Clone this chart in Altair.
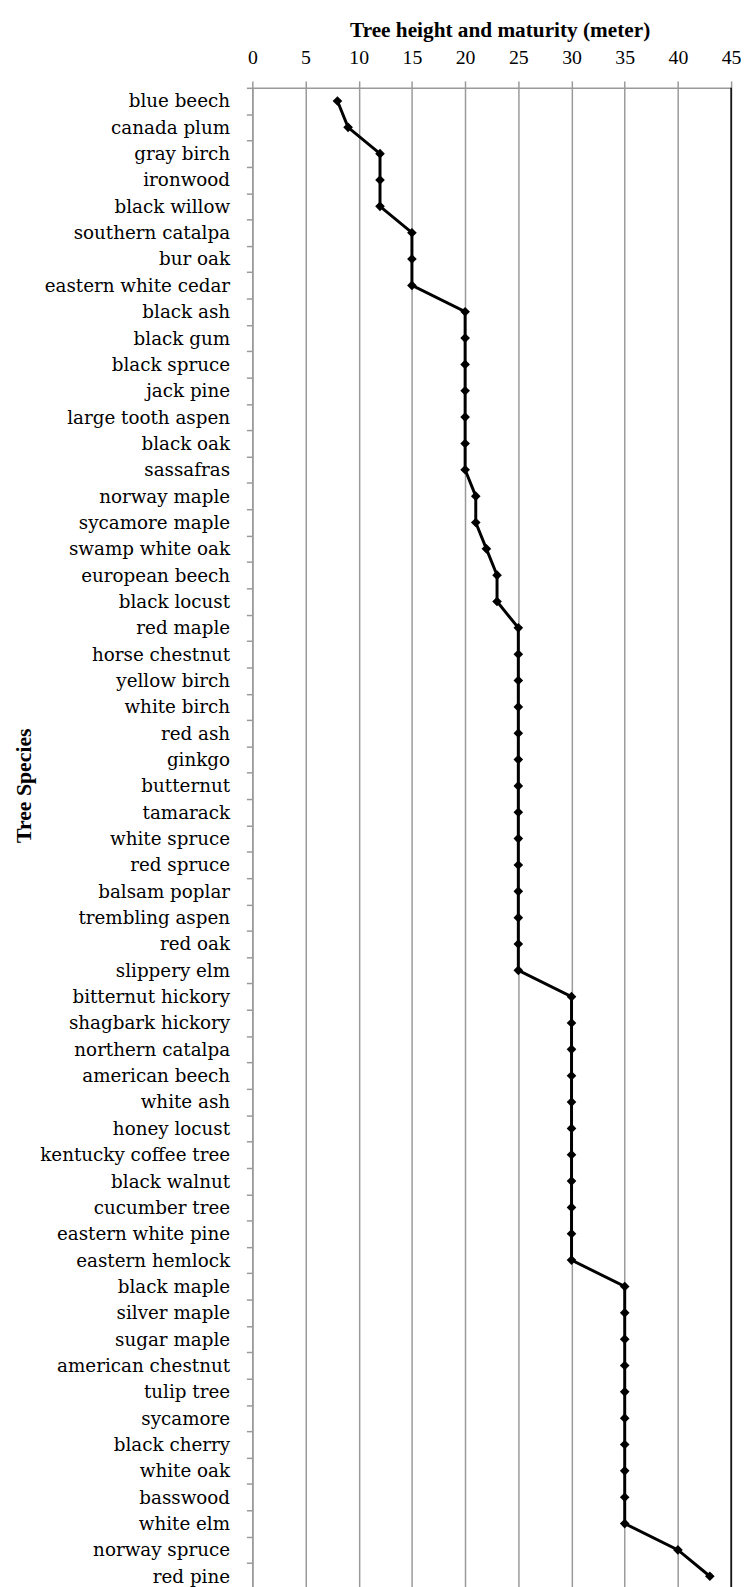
import altair as alt
import pandas as pd

species = [
    "blue beech", "canada plum", "gray birch", "ironwood", "black willow",
    "southern catalpa", "bur oak", "eastern white cedar", "black ash", "black gum ",
    "black spruce", "jack pine", "large tooth aspen", "black oak", "sassafras",
    "norway maple", "sycamore maple", "swamp white oak", "european beech", "black locust",
    "red maple", "horse chestnut", "yellow birch", "white birch", "red ash",
    "ginkgo", "butternut", "tamarack", "white spruce", "red spruce",
    "balsam poplar", "trembling aspen", "red oak", "slippery elm", "bitternut hickory",
    "shagbark hickory", "northern catalpa", "american beech", "white ash", "honey locust",
    "kentucky coffee tree", "black walnut", "cucumber tree", "eastern white pine", "eastern hemlock",
    "black maple", "silver maple", "sugar maple", "american chestnut", "tulip tree",
    "sycamore", "black cherry", "white oak ", "basswood", "white elm",
    "norway spruce", "red pine",
]
height_m = [
    8, 9, 12, 12, 12,
    15, 15, 15, 20, 20,
    20, 20, 20, 20, 20,
    21, 21, 22, 23, 23,
    25, 25, 25, 25, 25,
    25, 25, 25, 25, 25,
    25, 25, 25, 25, 30,
    30, 30, 30, 30, 30,
    30, 30, 30, 30, 30,
    35, 35, 35, 35, 35,
    35, 35, 35, 35, 35,
    40, 43,
]
x_ticks = [0, 5, 10, 15, 20, 25, 30, 35, 40, 45]
x_max = [45]

df = pd.DataFrame({"species": species, "height": height_m, "order": list(range(len(species)))})
edge = pd.DataFrame({"x": x_max})

x_scale = alt.Scale(domain=[0, 45], nice=False, zero=True)

line = alt.Chart(df).mark_line(
    color="black", strokeWidth=3,
    point=alt.OverlayMarkDef(shape="diamond", size=95, filled=True, color="black"),
).encode(
    x=alt.X("height:Q", scale=x_scale, axis=alt.Axis(
        orient="top", values=x_ticks, title="Tree height and maturity (meter)",
        grid=True, gridColor="#9a9a9a", gridWidth=1.5,
        domainColor="#9a9a9a", domainWidth=1.5, tickColor="#9a9a9a", tickWidth=1.5, tickSize=7,
        labelPadding=14, labelFont="Liberation Serif", labelFontSize=20, labelColor="black",
        labelFlush=False,
        titleFont="Liberation Serif", titleFontSize=21.5, titleFontWeight="bold", titleColor="black",
        titlePadding=6, titleX=250,
    )),
    y=alt.Y("species:N", sort=species,
            scale=alt.Scale(type="band", paddingInner=0, paddingOuter=0),
            axis=alt.Axis(
                title="Tree Species", tickBand="extent", grid=False,
                domainColor="#9a9a9a", domainWidth=1.5, tickColor="#9a9a9a", tickWidth=1.5, tickSize=6,
                labelPadding=17, labelFont="DejaVu Serif", labelFontSize=18.5, labelColor="black",
                labelLimit=400,
                titleFont="Liberation Serif", titleFontSize=22, titleFontWeight="bold", titleColor="black",
                titleX=-224, titleY=705, titleBaseline="alphabetic",
            )),
    order="order:Q",
)

border = alt.Chart(edge).mark_rule(color="black", strokeWidth=1.5).encode(
    x=alt.X("x:Q", scale=x_scale)
)

chart = alt.layer(line, border).properties(
    width=484, height=1518,
    padding={"left": 5, "top": 3, "right": 0, "bottom": 0},
).configure_view(stroke=None)

chart.save("out.html", embed_options={"renderer": "svg", "actions": False})
